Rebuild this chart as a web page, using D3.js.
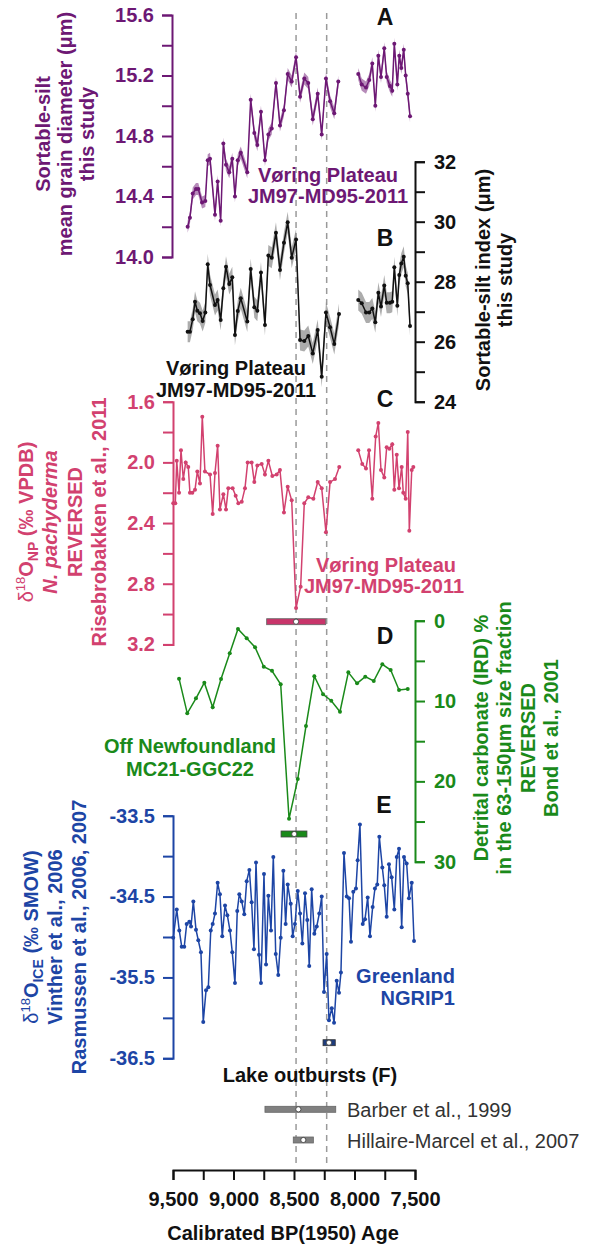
<!DOCTYPE html>
<html lang="en">
<head>
<meta charset="utf-8">
<title>Lake outburst records</title>
<script src="https://d3js.org/d3.v7.min.js"></script>
<style>
body { margin: 0; background: #fff; }
svg { display: block; font-family: "Liberation Sans", Arial, sans-serif; }
</style>
</head>
<body>
<svg width="590" height="1244"></svg>
<script>
// ---- data (ages in cal BP, null = gap in the record) ----
var ageA = [9379,9360,9337,9310,9291,9260,9233,9213,9194,9153,9131,9106,9084,9062,9035,9010,8988,8965,8940,8886,
  8858,8828,8803,8773,8740,8712,8684,8649,8616,8583,8552,8519,8483,8450,8415,8382,8345,8304,8271,8236,8202,8167,8134,
  8050,
  7969,7940,7905,7878,7853,7828,7803,7781,7754,7734,7707,7688,7671,7646,7630,7613,7593,7577,7560,7541];
var sortSiltMean = [14.20,14.26,14.42,14.45,14.45,14.36,14.37,14.64,14.65,14.28,14.50,14.24,14.75,14.61,14.56,14.65,14.40,14.64,14.69,14.56,
  15.04,14.82,14.74,14.96,14.64,14.81,14.85,15.15,14.87,14.97,15.21,15.16,15.32,15.06,15.18,15.15,14.91,15.08,14.81,15.18,15.03,14.95,15.16,
  null,
  15.21,15.14,15.12,15.17,15.28,15.00,15.33,15.19,15.38,15.19,15.13,15.10,15.41,15.14,15.33,15.25,15.37,15.20,15.08,14.93];
var errA = 0.04;

var ageB = [9379,9360,9337,9318,9299,9277,9255,9233,9213,9194,9153,9131,9106,9084,9062,9035,9010,8988,8965,8940,
  8886,8858,8828,8803,8773,8740,8712,8684,8649,8616,8583,8552,8519,8483,8450,8415,8382,8345,8304,8271,8236,8202,8167,8128,
  8050,
  7969,7940,7905,7878,7853,7828,7803,7781,7754,7734,7707,7688,7671,7646,7630,7613,7593,7577,7560,7541];
var sortSiltIndex = [26.33,26.33,26.75,27.33,27.03,26.95,26.69,26.97,28.58,27.89,27.22,27.39,26.72,27.78,28.50,27.92,28.15,26.22,27.02,27.45,
  26.67,28.42,27.15,27.03,28.31,26.56,28.87,28.80,29.63,28.39,29.30,29.98,28.80,29.41,26.06,26.02,26.19,25.61,26.39,24.83,26.97,26.48,25.92,26.92,
  null,
  27.39,27.28,26.97,26.97,27.11,26.65,27.63,27.17,27.87,27.30,27.30,27.33,28.48,27.20,28.22,28.61,28.83,28.20,27.95,26.52];
var errB = 0.35;

var ageC = [9498,9481,9469,9450,9434,9415,9395,9374,9360,9340,9318,9299,9277,9258,9236,9194,9172,9153,9131,9112,
  9084,9062,9043,9007,8982,8960,8932,8905,8883,8850,8828,8803,8767,8740,8712,8679,8643,8616,8583,8552,
  8519,8483,8445,8415,8382,8340,8304,8271,8236,8202,8161,8126,
  8050,
  7969,7936,7905,7880,7853,7825,7803,7781,7754,7734,7712,7688,7671,7651,7632,7610,7597,7577,7560,7547,7527,7514];
var d18ONP = [2.27,2.27,1.99,2.20,1.92,2.11,2.00,2.03,2.20,2.20,2.18,2.06,2.14,1.70,2.06,2.08,2.34,2.07,1.89,2.31,
  2.21,2.31,2.17,2.17,2.22,2.27,2.26,2.17,2.00,2.00,2.13,2.02,2.01,2.08,1.99,2.09,2.08,2.05,2.33,2.16,
  2.25,2.96,2.82,2.27,2.23,2.24,2.13,2.17,2.46,2.13,2.11,2.03,
  null,
  1.92,2.01,2.04,1.92,2.24,1.83,1.74,2.05,2.10,1.90,1.91,1.88,2.18,1.95,2.17,2.03,2.20,2.24,1.80,2.45,2.05,2.03];

var ageD = [9450,9382,9310,9241,9172,9103,9031,8963,8891,8822,8750,8682,8610,8541,8469,8401,8332,8260,8192,8120,
  8051,7979,7911,7841,7770,7701,7632,7560];
var detritalCarb = [7.22,11.53,9.66,7.72,10.78,7.26,4.06,1.03,2.19,3.31,5.73,6.23,7.92,24.66,19.71,13.11,6.92,9.17,9.96,11.33,
  6.43,7.80,6.97,7.51,5.43,6.14,8.63,8.51];

var ageE = [9498,9469,9448,9428,9407,9387,9365,9351,9332,9310,9291,9269,9250,9227,9208,9188,9172,9153,9131,9112,
  9093,9070,9051,9029,9010,8988,8969,8952,8932,8911,8891,8869,8850,8831,8814,8789,8773,8748,8731,8712,
  8690,8671,8651,8630,8610,8588,8569,8552,8527,8511,8492,8469,8450,8431,8409,8390,8374,8354,8332,8312,
  8291,8271,8252,8230,8211,8188,8169,8147,8128,8112,8087,8064,8045,8029,8010,7988,7974,7955,7932,7913,
  7891,7872,7850,7831,7812,7795,7770,7754,7734,7715,7693,7671,7651,7632,7610,7591,7569,7550,7527,7508];
var d18OICE = [-35.01,-34.66,-34.92,-35.12,-35.12,-34.84,-34.81,-34.87,-34.56,-34.91,-35.04,-35.19,-36.05,-35.66,-35.62,-34.92,-34.84,-34.71,-34.33,-34.47,
  -34.99,-34.61,-34.73,-34.92,-35.19,-35.57,-34.68,-34.47,-34.56,-34.72,-34.31,-34.17,-34.57,-35.15,-34.08,-35.22,-35.57,-34.22,-35.34,-34.49,
  -34.92,-34.01,-35.21,-35.47,-35.01,-34.18,-34.84,-34.35,-34.59,-34.99,-34.84,-34.43,-34.71,-35.08,-34.46,-34.79,-35.36,-34.41,-34.96,-34.87,
  -34.71,-34.50,-35.68,-35.21,-36.03,-35.88,-36.06,-35.54,-35.69,-35.44,-33.96,-34.50,-34.52,-35.06,-34.44,-34.40,-34.05,-33.61,-34.84,-34.78,
  -34.51,-34.99,-34.63,-34.40,-34.35,-33.76,-34.14,-34.36,-34.75,-34.10,-34.26,-34.66,-34.01,-33.91,-34.88,-34.01,-34.09,-34.52,-34.33,-35.05];

// dated events: [old end, centre, young end]
var eventC = [8726, 8483, 8238];
var eventD = [8607, 8498, 8393];
var eventE = [8260, 8211, 8159];
var outburstNames = ["Barber et al., 1999", "Hillaire-Marcel et al., 2007"];
var outburstRanges = [[8740, 8464, 8155], [8506, 8423, 8340]];
var markerAges = [8483, 8230];

var ticksA = [14.0,14.2,14.4,14.6,14.8,15.0,15.2,15.4,15.6];
var ticksB = [24,25,26,27,28,29,30,31,32];
var ticksC = [1.6,1.8,2.0,2.2,2.4,2.6,2.8,3.0,3.2];
var ticksD = [0,5,10,15,20,25,30];
var ticksE = [-33.5,-34.0,-34.5,-35.0,-35.5,-36.0,-36.5];
var ticksAge = [9500,9250,9000,8750,8500,8250,8000,7750,7500];

// ---- setup ----
var svg = d3.select("svg");
var purple = "#6d1874", dark = "#111111", pink = "#d2416f", green = "#1a8a1a", blue = "#1d45a5";

var x = d3.scaleLinear().domain([9500, 7500]).range([173, 415]);
var yA = d3.scaleLinear().domain([14.0, 15.6]).range([257, 15]);
var yB = d3.scaleLinear().domain([24, 32]).range([401.7, 161.7]);
var yC = d3.scaleLinear().domain([1.6, 3.2]).range([401.7, 644.4]);
var yD = d3.scaleLinear().domain([0, 30]).range([620.7, 861.7]);
var yE = d3.scaleLinear().domain([-33.5, -36.5]).range([815.7, 1058.3]);

// plain hyphen instead of d3's unicode minus
var fmt1 = function(d) { return d3.format(".1f")(d).replace("\u2212", "-"); };

// dashed event markers
svg.append("g").selectAll("line")
  .data(markerAges)
  .enter().append("line")
    .attr("x1", function(d) { return x(d); })
    .attr("x2", function(d) { return x(d); })
    .attr("y1", 13).attr("y2", 1165)
    .attr("stroke", "#9a9a9a")
    .attr("stroke-width", 1.5)
    .attr("stroke-dasharray", "6,5");

function drawAxis(scale, side, xpos, ticks, color, fmt, pad) {
  var ax = (side == "left" ? d3.axisLeft(scale) : d3.axisRight(scale))
    .tickValues(ticks).tickSize(10).tickPadding(pad)
    .tickFormat(function(d, i) { return i % 2 == 0 ? fmt(d) : ""; });
  var g = svg.append("g").attr("transform", "translate(" + xpos + ",0)").call(ax);
  g.attr("font-family", null).attr("font-size", 20).attr("font-weight", "bold");
  g.selectAll("path, line").attr("stroke", color).attr("stroke-width", 2);
  g.selectAll("text").attr("fill", color);
}

function drawSeries(ages, vals, y, color, r, err, bandColor, bandOpacity) {
  var pts = ages.map(function(a, i) { return [a, vals[i]]; });
  if (err) {
    svg.append("path")
      .datum(pts)
      .attr("fill", bandColor)
      .attr("fill-opacity", bandOpacity)
      .attr("d", d3.area()
        .defined(function(d) { return d[1] != null; })
        .x(function(d) { return x(d[0]); })
        .y0(function(d) { return y(d[1] - err); })
        .y1(function(d) { return y(d[1] + err); }));
  }
  svg.append("path")
    .datum(pts)
    .attr("fill", "none")
    .attr("stroke", color)
    .attr("stroke-width", 1.5)
    .attr("d", d3.line()
      .defined(function(d) { return d[1] != null; })
      .x(function(d) { return x(d[0]); })
      .y(function(d) { return y(d[1]); }));
  svg.append("g").selectAll("circle")
    .data(pts.filter(function(d) { return d[1] != null; }))
    .enter().append("circle")
      .attr("cx", function(d) { return x(d[0]); })
      .attr("cy", function(d) { return y(d[1]); })
      .attr("r", r)
      .attr("fill", color);
}

function dateBar(range, ypos, fill, stroke) {
  svg.append("rect")
    .attr("x", x(range[0])).attr("y", ypos - 3)
    .attr("width", x(range[2]) - x(range[0])).attr("height", 6)
    .attr("fill", fill).attr("stroke", stroke).attr("stroke-width", 0.8);
  svg.append("circle")
    .attr("cx", x(range[1])).attr("cy", ypos).attr("r", 2.6)
    .attr("fill", "#fff").attr("stroke", "#333").attr("stroke-width", 0.8);
}

function label(txt, xpos, ypos, color, size, anchor, weight) {
  return svg.append("text")
    .attr("x", xpos).attr("y", ypos)
    .attr("fill", color)
    .attr("font-size", size)
    .attr("font-weight", weight || "bold")
    .attr("text-anchor", anchor || "middle")
    .text(txt);
}

// vertical title: lines given as arrays of tspans [text, options]
function vtitle(xs, cy, color, lines) {
  lines.forEach(function(parts, i) {
    var t = svg.append("text")
      .attr("transform", "translate(" + xs[i] + "," + cy + ") rotate(-90)")
      .attr("text-anchor", "middle")
      .attr("fill", color)
      .attr("font-size", 20)
      .attr("font-weight", "bold");
    parts.forEach(function(p) {
      var s = t.append("tspan").text(p[0]);
      var o = p[1] || {};
      if (o.size) s.attr("font-size", o.size);
      if (o.dy) s.attr("dy", o.dy);
      if (o.weight) s.attr("font-weight", o.weight);
      if (o.italic) s.attr("font-style", "italic");
    });
  });
}

// ---- panel A ----
drawAxis(yA, "left", 172, ticksA, purple, fmt1, 8);
drawSeries(ageA, sortSiltMean, yA, purple, 2, errA, purple, 0.5);
vtitle([50, 72, 94], 134, purple, [
  [["Sortable-silt"]],
  [["mean grain diameter (μm)"]],
  [["this study"]]
]);
label("A", 385, 25, dark, 23);
label("Vøring Plateau", 328, 182, purple, 20);
label("JM97-MD95-2011", 328, 203, purple, 20);

// ---- panel B ----
drawAxis(yB, "right", 415, ticksB, dark, d3.format("d"), 9);
drawSeries(ageB, sortSiltIndex, yB, dark, 2, errB, "#808080", 0.65);
vtitle([490, 512], 280, dark, [
  [["Sortable-silt index (μm)"]],
  [["this study"]]
]);
label("B", 385, 246, dark, 23);
label("Vøring Plateau", 236, 375, dark, 20);
label("JM97-MD95-2011", 236, 397, dark, 20);

// ---- panel C ----
drawAxis(yC, "left", 173, ticksC, pink, fmt1, 8);
drawSeries(ageC, d18ONP, yC, pink, 2, 0);
dateBar(eventC, 621.7, "#c8356a", "#666");
vtitle([33, 57, 82, 106], 522, pink, [
  [["δ", {weight: "normal"}], ["18", {size: 13, dy: -8, weight: "normal"}], ["O", {dy: 8}], ["NP", {size: 14, dy: 5}], ["  (‰ VPDB)", {dy: -5}]],
  [["N. pachyderma", {italic: true}]],
  [["REVERSED"]],
  [["Risebrobakken et al., 2011"]]
]);
label("C", 385, 407, dark, 23);
label("Vøring Plateau", 386, 572, pink, 20);
label("JM97-MD95-2011", 384, 593, pink, 20);

// ---- panel D ----
drawAxis(yD, "right", 415, ticksD, green, d3.format("d"), 9);
drawSeries(ageD, detritalCarb, yD, green, 2, 0);
dateBar(eventD, 834, green, "#444");
vtitle([488, 511, 535, 558], 738, green, [
  [["Detrital carbonate (IRD) %"]],
  [["in the 63-150μm size fraction"]],
  [["REVERSED"]],
  [["Bond et al., 2001"]]
]);
label("D", 385, 644, dark, 23);
label("Off Newfoundland", 190, 753, green, 20);
label("MC21-GGC22", 190, 776, green, 20);

// ---- panel E ----
drawAxis(yE, "left", 173, ticksE, blue, fmt1, 8);
drawSeries(ageE, d18OICE, yE, blue, 2, 0);
dateBar(eventE, 1042.7, "#1d3c7d", "#333");
vtitle([38, 62, 86], 937, blue, [
  [["δ", {weight: "normal"}], ["18", {size: 13, dy: -8, weight: "normal"}], ["O", {dy: 8}], ["ICE", {size: 14, dy: 5}], ["  (‰ SMOW)", {dy: -5}]],
  [["Vinther et al., 2006"]],
  [["Rasmussen et al., 2006, 2007"]]
]);
label("E", 384, 813, dark, 23);
label("Greenland", 455, 983, blue, 20, "end");
label("NGRIP1", 455, 1005, blue, 20, "end");

// ---- panel F: lake outbursts ----
label("Lake outbursts (F)", 310, 1082, dark, 20);
var rowY = [1109.3, 1140];
outburstRanges.forEach(function(r, i) {
  dateBar(r, rowY[i], "#808080", "#666");
  label(outburstNames[i], 347, rowY[i] + 8, "#333", 20, "start", "normal");
});

// ---- age axis ----
var xg = svg.append("g")
  .attr("transform", "translate(0,1170)")
  .call(d3.axisBottom(x)
    .tickValues(ticksAge)
    .tickSize(10)
    .tickPadding(12)
    .tickFormat(function(d, i) { return i % 2 == 0 ? d3.format(",")(d) : ""; }));
xg.attr("font-family", null).attr("font-size", 20).attr("font-weight", "bold");
xg.selectAll("path, line").attr("stroke", dark).attr("stroke-width", 2);
xg.selectAll("text").attr("fill", dark);
label("Calibrated BP(1950) Age", 283, 1240, dark, 20);
</script>
</body>
</html>
